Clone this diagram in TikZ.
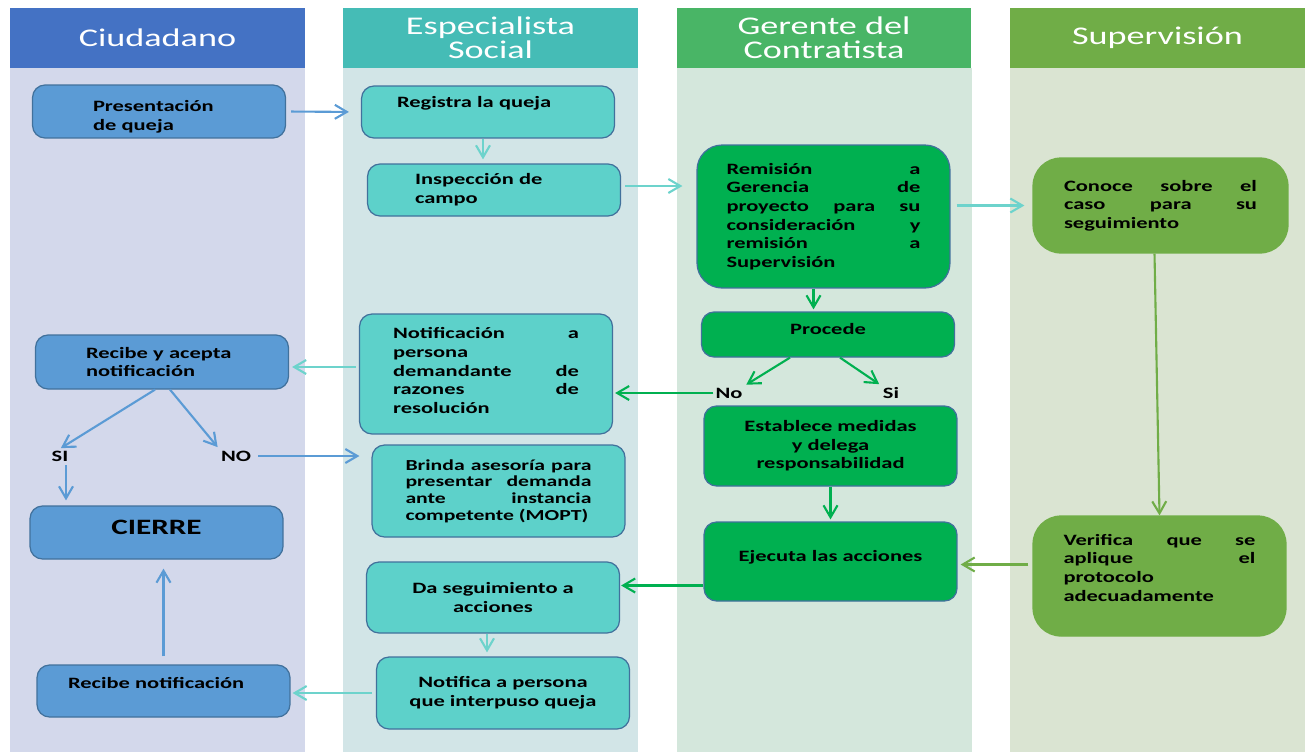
\documentclass[tikz,border=0pt]{standalone}
\usepackage{fontspec}
\setmainfont{Carlito}[FakeStretch=1.42]
\usetikzlibrary{positioning,arrows.meta,calc}
\definecolor{citHead}{HTML}{4472C4}
\definecolor{citBody}{HTML}{D3D8EB}
\definecolor{espHead}{HTML}{45BCB6}
\definecolor{espBody}{HTML}{D2E5E7}
\definecolor{gerHead}{HTML}{49B566}
\definecolor{gerBody}{HTML}{D4E7DC}
\definecolor{supHead}{HTML}{70AD47}
\definecolor{supBody}{HTML}{DAE4D2}
\definecolor{citBox}{HTML}{5B9BD5}
\definecolor{espBox}{HTML}{5DD1CA}
\definecolor{gerBox}{HTML}{00B050}
\definecolor{supBox}{HTML}{70AD47}
\definecolor{boxLine}{HTML}{41719C}
\definecolor{espLine}{HTML}{6DD3CC}
\tikzset{
  box/.style={draw=boxLine,line width=0.7pt,rounded corners=0.25cm,
              minimum width=5.06cm,inner sep=0pt,align=center,
              font=\fontsize{9}{10.6}\selectfont\bfseries},
  citbox/.style={box,fill=citBox},
  espbox/.style={box,fill=espBox},
  gerbox/.style={box,fill=gerBox},
  supbox/.style={box,fill=supBox,draw=supBox,rounded corners=0.56cm},
  just/.style={align=justify,text width=#1,
               execute at begin node={\tolerance=10000\hbadness=10000}},
  lefttext/.style={align=left,text width=#1},
  lift/.style={text height=6.5pt,text depth=#1},
  lanehead/.style={minimum width=5.9cm,minimum height=1.2cm,inner sep=0pt,
                   text=white,align=center,
                   font=\fontsize{14.5}{13.8}\selectfont},
  answer/.style={font=\fontsize{9}{10.6}\selectfont\bfseries,inner sep=1pt},
  flow/.style={-{Straight Barb[length=0.24cm,width=0.28cm]},line width=1.2pt},
  citflow/.style={flow,citBox},
  espflow/.style={flow,espLine},
  gerflow/.style={flow,gerBox},
  supflow/.style={flow,supBox},
}
\begin{document}
\begin{tikzpicture}[x=0.02cm,y=-0.02cm]
  \useasboundingbox (0,0) rectangle (1307,754);
  % --- lanes ---
  \foreach \cx/\hd/\bd/\lab/\nm in {157.5/citHead/citBody/Ciudadano/cit,
      490.5/espHead/espBody/{Especialista\\Social}/esp,
      824/gerHead/gerBody/{Gerente del\\Contratista}/ger,
      1157.5/supHead/supBody/Supervisión/sup} {
    \fill[\bd] (\cx-147.5,68) rectangle (\cx+147.5,752);
    \node[lanehead,fill=\hd] (\nm-head) at (\cx,38) {\lab};
  }
  % --- Ciudadano ---
  \node[citbox,minimum height=1.06cm,lefttext=2.64cm,text height=7pt,text depth=6.8pt] (pres) at (159,111.5) {Presentación\\de queja};
  \node[citbox,minimum height=1.08cm,lefttext=3.04cm] (rac) at (162,362) {Recibe y acepta\\notificación};
  \node[citbox,minimum height=1.06cm,font=\fontsize{12.5}{14}\selectfont\bfseries,
        text height=8.8pt,text depth=6.4pt] (cierre) at (156.5,532.5) {CIERRE};
  \node[citbox,minimum height=1.04cm,lefttext=3.82cm,lift=9.7pt] (rn) at (163.5,691) {Recibe notificación};
  \node[answer] (siC) at (60,456) {SI};
  \node[answer] (noC) at (236,456) {NO};
  % --- Especialista Social ---
  \node[espbox,minimum height=1.04cm,lefttext=3.64cm,lift=12.1pt] (reg) at (488,112) {Registra la queja};
  \node[espbox,minimum height=1.04cm,lefttext=3.16cm] (insp) at (494,190) {Inspección de\\campo};
  \node[espbox,minimum height=2.4cm,just=3.72cm,text height=7pt,text depth=47pt] (notif) at (486,374)
    {Notificación a\linebreak persona\linebreak demandante de\linebreak razones de\linebreak resolución};
  \node[espbox,minimum height=1.84cm,just=3.72cm,font=\fontsize{8.7}{9.5}\selectfont\bfseries] (brin) at (498.5,491)
    {Brinda asesoría para\linebreak presentar demanda\linebreak ante instancia\linebreak competente (MOPT)};
  \node[espbox,minimum height=1.42cm] (seg) at (493,597.5) {Da seguimiento a\\acciones};
  \node[espbox,minimum height=1.44cm] (ntf) at (503,693) {Notifica a persona\\que interpuso queja};
  % --- Gerente del Contratista ---
  \node[gerbox,minimum height=2.86cm,rounded corners=0.5cm,just=3.88cm] (rem) at (823.5,216.5)
    {Remisión a\linebreak Gerencia de\linebreak proyecto para su\linebreak consideración y\linebreak remisión a\linebreak Supervisión};
  \node[gerbox,minimum height=0.9cm,lift=6.9pt] (proc) at (828,334.5) {Procede};
  \node[gerbox,minimum height=1.6cm] (est) at (830.5,446) {Establece medidas\\y delega\\responsabilidad};
  \node[gerbox,minimum height=1.58cm,lift=6.9pt] (eje) at (830.5,561.5) {Ejecuta las acciones};
  \node[answer] (noG) at (729,393) {No};
  \node[answer] (siG) at (891,393) {Si};
  % --- Supervision ---
  \node[supbox,minimum width=5.1cm,minimum height=1.9cm,just=3.86cm] (con) at (1160.5,205.5)
    {Conoce sobre el\linebreak caso para su\linebreak seguimiento};
  \node[supbox,minimum height=2.4cm,just=3.84cm,text height=7pt,text depth=42pt] (ver) at (1159.5,576)
    {Verifica que se\linebreak aplique el\linebreak protocolo\linebreak adecuadamente};
  % --- connectors ---
  \draw[citflow,shorten <=0.1cm,shorten >=0.24cm] (pres.east) -- (reg.west);
  \draw[espflow,shorten >=0.08cm] ($(reg.south)+(-5,0)$) -- ($(reg.south |- insp.north)+(-5,0)$);
  \draw[espflow,shorten <=0.08cm,shorten >=0.28cm] ($(insp.east)+(0,-4)$) -- ($(insp.east -| rem.west)+(0,-4)$);
  \draw[espflow,shorten <=0.12cm,shorten >=0.16cm] (rem.east |- con.west) -- (con.west);
  \draw[gerflow,shorten >=0.04cm] ($(rem.south)+(-10,0)$) -- ($(rem.south |- proc.north)+(-10,0)$);
  \draw[supflow] ($(con.south)+(-6,0)$) -- (ver.north);
  \draw[gerflow,shorten >=0.04cm] ($(proc.south)+(-38,0)$) -- (noG.north east);
  \draw[gerflow,shorten >=0.04cm] ($(proc.south)+(12,0)$) -- (siG.north west);
  \draw[gerflow,shorten >=0.04cm] (noG.west) -- (noG.west -| notif.east);
  \draw[espflow,shorten <=0.06cm,shorten >=0.06cm] ($(notif.west)+(0,-7)$) -- ($(rac.east)+(0,5)$);
  \draw[citflow,shorten >=0.02cm] ($(rac.south)+(-7,0)$) -- (siC.north);
  \draw[citflow,shorten >=0.04cm] ($(rac.south)+(8,0)$) -- (noC.north west);
  \draw[citflow,shorten <=0.04cm,shorten >=0.1cm] ($(siC.south)+(6,0)$) -- ($(siC.south |- cierre.north)+(6,0)$);
  \draw[citflow,shorten <=0.1cm,shorten >=0.24cm] (noC.east) -- (noC.east -| brin.west);
  \draw[gerflow,shorten >=0.04cm] (est.south) -- (eje.north);
  \draw[supflow,shorten <=0.08cm,shorten >=0.06cm] ($(ver.west |- eje.east)+(0,3)$) -- ($(eje.east)+(0,3)$);
  \draw[gerflow,shorten >=0.02cm] ($(eje.west)+(0,24)$) -- ($(seg.east)+(0,-12)$);
  \draw[espflow,shorten >=0.08cm] ($(seg.south)+(-6,0)$) -- ($(seg.south |- ntf.north)+(-6,0)$);
  \draw[espflow,shorten <=0.08cm,shorten >=0.04cm] (ntf.west) -- (ntf.west -| rn.east);
  \draw[citflow,shorten <=0.16cm,shorten >=0.18cm] (rn.north) -- (rn.north |- cierre.south);
\end{tikzpicture}
\end{document}
